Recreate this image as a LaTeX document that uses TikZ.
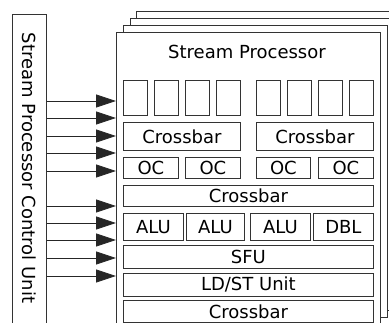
\documentclass[tikz,border=0pt]{standalone}
\usepackage{fontspec}
\setmainfont{DejaVu Sans}
\usetikzlibrary{arrows.meta}

\tikzset{
  blk/.style={draw=black!80, line width=0.8pt, fill=white, inner sep=0pt, anchor=north west},
  layer/.style={draw=black!80, line width=0.8pt, fill=white, inner sep=0pt, anchor=north west,
    minimum width=264pt, minimum height=292pt},
  arr/.style={-{Triangle[length=20pt, width=13pt]}, draw=black!85, line width=0.8pt}
}

\begin{document}
\begin{tikzpicture}[x=1pt, y=-1pt, font=\fontsize{18}{20}\selectfont]
        \useasboundingbox (0,0) rectangle (389,323);
        \clip (0,0) rectangle (389,323);

        % Control unit on the left
        \node[blk, minimum width=34pt, minimum height=330pt] (cu) at (12,14) {};
        \node[rotate=-90] (cutext) at (29,168) {Stream Processor Control Unit};

        % Stacked processors behind
        \node[layer] (sp3) at (136,11) {};
        \node[layer] (sp2) at (130,18) {};
        \node[layer] (sp1) at (123,25) {};
        \node[layer] (sp) at (116,32) {};

        % Title
        \node (title) at (247,52) {Stream Processor};

        % Register banks
        \node[blk, minimum width=24pt, minimum height=35pt] (rf1) at (123,80) {};
        \node[blk, minimum width=24pt, minimum height=35pt] (rf2) at (154,80) {};
        \node[blk, minimum width=24pt, minimum height=35pt] (rf3) at (185,80) {};
        \node[blk, minimum width=24pt, minimum height=35pt] (rf4) at (216,80) {};
        \node[blk, minimum width=24pt, minimum height=35pt] (rf5) at (256,80) {};
        \node[blk, minimum width=24pt, minimum height=35pt] (rf6) at (287,80) {};
        \node[blk, minimum width=24pt, minimum height=35pt] (rf7) at (318,80) {};
        \node[blk, minimum width=24pt, minimum height=35pt] (rf8) at (349,80) {};

        % First crossbars
        \node[blk, minimum width=117pt, minimum height=28pt] (xbarl) at (123,122) {Crossbar};
        \node[blk, minimum width=117pt, minimum height=28pt] (xbarr) at (256,122) {Crossbar};

        % Operand collectors
        \node[blk, minimum width=55pt, minimum height=21pt] (oc1) at (123,157) {OC};
        \node[blk, minimum width=55pt, minimum height=21pt] (oc2) at (185,157) {OC};
        \node[blk, minimum width=54pt, minimum height=21pt] (oc3) at (256,157) {OC};
        \node[blk, minimum width=55pt, minimum height=21pt] (oc4) at (318,157) {OC};

        % Second crossbar
        \node[blk, minimum width=250pt, minimum height=21pt] (xbarm) at (123,185) {Crossbar};

        % Execution units
        \node[blk, minimum width=60pt, minimum height=27pt] (alu1) at (123,213) {ALU};
        \node[blk, minimum width=58pt, minimum height=27pt] (alu2) at (186,213) {ALU};
        \node[blk, minimum width=60pt, minimum height=27pt] (alu3) at (250,213) {ALU};
        \node[blk, minimum width=60pt, minimum height=27pt] (dbl) at (313,213) {DBL};
        \node[blk, minimum width=250pt, minimum height=23pt] (sfu) at (123,245) {SFU};
        \node[blk, minimum width=250pt, minimum height=23pt] (ldst) at (123,273) {LD/ST Unit};
        \node[blk, minimum width=250pt, minimum height=22pt] (xbarb) at (123,300) {Crossbar};

        % Control signals
        \draw[arr] (cu.east |- 0,101) -- (sp.west |- 0,101);
        \draw[arr] (cu.east |- 0,118) -- (sp.west |- 0,118);
        \draw[arr] (cu.east |- 0,136) -- (sp.west |- 0,136);
        \draw[arr] (cu.east |- 0,153) -- (sp.west |- 0,153);
        \draw[arr] (cu.east |- 0,171) -- (sp.west |- 0,171);
        \draw[arr] (cu.east |- 0,206) -- (sp.west |- 0,206);
        \draw[arr] (cu.east |- 0,223) -- (sp.west |- 0,223);
        \draw[arr] (cu.east |- 0,240) -- (sp.west |- 0,240);
        \draw[arr] (cu.east |- 0,258) -- (sp.west |- 0,258);
        \draw[arr] (cu.east |- 0,276) -- (sp.west |- 0,276);
    \end{tikzpicture}
\end{document}
